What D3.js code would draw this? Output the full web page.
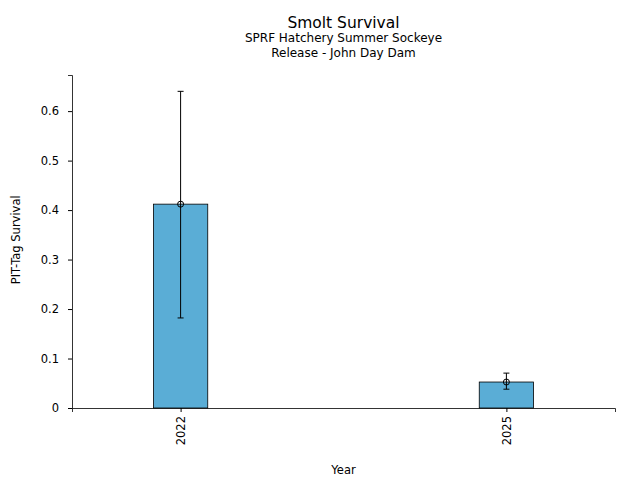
<!DOCTYPE html>
<html>
<head>
<meta charset="utf-8">
<script src="https://cdn.jsdelivr.net/npm/d3@7"></script>
<style>
  body { margin: 0; background: #fff; }
  text { font-family: "DejaVu Sans", sans-serif; }
</style>
</head>
<body>
<svg id="chart" width="640" height="480"></svg>
<script>
const years = [2022, 2025]
const survival = [0.412, 0.0525]
const lower = [0.182, 0.038]
const upper = [0.640, 0.0705]
const yTicks = [0, 0.1, 0.2, 0.3, 0.4, 0.5, 0.6]

const SVG = d3.select("#chart")
const Margin = { top: 75, bottom: 72, left: 72, right: 25 }
const Width = 640
const Height = 480

const xscale = d3.scaleLinear()
    .domain([2021, 2026])
    .range([Margin.left, Width - Margin.right])

const yscale = d3.scaleLinear()
    .domain([0, 0.673])
    .range([Height - Margin.bottom, Margin.top])

const barW = xscale(2021.5) - xscale(2021)

// bars
SVG.append("g").selectAll("rect")
    .data(years)
    .join("rect")
    .attr("x", (d) => xscale(d) - barW / 2)
    .attr("y", (d, i) => yscale(survival[i]))
    .attr("width", barW)
    .attr("height", (d, i) => yscale(0) - yscale(survival[i]))
    .attr("fill", "#5aadd6")
    .attr("stroke", "black")
    .attr("stroke-width", 0.8)

// error bars
const err = SVG.append("g").attr("stroke", "black").attr("stroke-width", 1)
years.forEach((yr, i) => {
    let x = xscale(yr)
    err.append("line")
        .attr("x1", x).attr("x2", x)
        .attr("y1", yscale(lower[i])).attr("y2", yscale(upper[i]))
    for (const v of [lower[i], upper[i]]) {
        err.append("line")
            .attr("x1", x - 3).attr("x2", x + 3)
            .attr("y1", yscale(v)).attr("y2", yscale(v))
    }
    err.append("circle")
        .attr("cx", x).attr("cy", yscale(survival[i]))
        .attr("r", 3)
        .attr("fill", "none")
})

// axes
const left = d3.axisLeft(yscale).tickValues(yTicks).tickSizeOuter(0).tickSize(4).tickPadding(9)
    .tickFormat(d => d === 0 ? "0" : d3.format(".1f")(d))
const bottom = d3.axisBottom(xscale).tickValues(years).tickSizeOuter(0).tickSize(4).tickFormat(d3.format("d"))

const gy = SVG.append("g")
    .attr("transform", `translate(${Margin.left}, 0)`)
    .call(left)
gy.selectAll("text").style("font-size", "11.5px").attr("fill", "black")
gy.select(".domain").attr("stroke-width", 0.8)

const gx = SVG.append("g")
    .attr("transform", `translate(0, ${Height - Margin.bottom})`)
    .call(bottom)
gx.select(".domain").attr("stroke-width", 0.8)
gx.selectAll("text")
    .style("font-size", "11.5px")
    .attr("fill", "black")
    .attr("transform", "rotate(-90)")
    .attr("x", -8)
    .attr("y", 0)
    .attr("dy", "0.35em")
    .style("text-anchor", "end")

// labels
SVG.append("text")
    .text("PIT-Tag Survival")
    .attr("transform", `translate(20, ${yscale(0.34)}) rotate(-90)`)
    .style("text-anchor", "middle")
    .style("font-size", "11.5px")

SVG.append("text")
    .text("Year")
    .attr("x", xscale(2023.5))
    .attr("y", 474)
    .style("text-anchor", "middle")
    .style("font-size", "11.5px")

const cx = xscale(2023.5)
SVG.append("text").text("Smolt Survival")
    .attr("x", cx).attr("y", 28)
    .style("text-anchor", "middle").style("font-size", "15.5px")
SVG.append("text").text("SPRF Hatchery Summer Sockeye")
    .attr("x", cx).attr("y", 42)
    .style("text-anchor", "middle").style("font-size", "12px")
SVG.append("text").text("Release - John Day Dam")
    .attr("x", cx).attr("y", 57)
    .style("text-anchor", "middle").style("font-size", "12px")
</script>
</body>
</html>
